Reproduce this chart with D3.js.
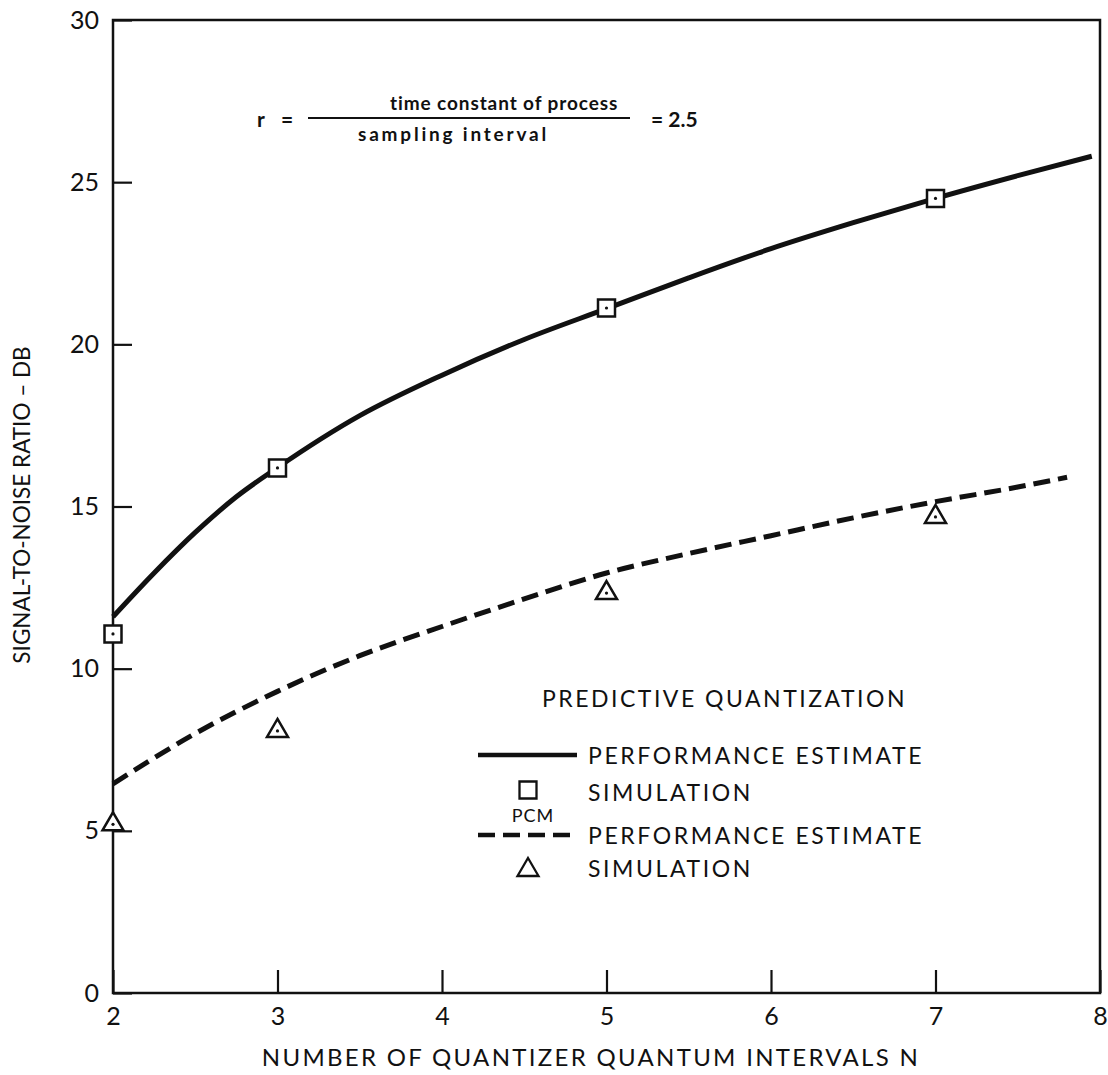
<!DOCTYPE html>
<html>
<head>
<meta charset="utf-8">
<script src="https://cdn.jsdelivr.net/npm/d3@7"></script>
<style>
  body { margin: 0; background: #fff; }
  text { font-family: Lato, "Open Sans", sans-serif; fill: #111; }
</style>
</head>
<body>
<div id="chart"></div>
<script>
// Values
var xTicks = [2, 3, 4, 5, 6, 7, 8];
var yTicks = [0, 5, 10, 15, 20, 25, 30];

// Predictive quantization, performance estimate (solid curve)
var predN = [2, 2.25, 2.5, 2.75, 3, 3.5, 4, 4.5, 5, 5.5, 6, 6.5, 7, 7.5, 7.95];
var predEstimate = [11.6, 12.95, 14.2, 15.3, 16.2, 17.8, 19.05, 20.15, 21.1, 22.05, 22.95, 23.75, 24.5, 25.2, 25.8];

// PCM, performance estimate (dashed curve)
var pcmN = [2, 2.5, 3, 3.5, 4, 4.5, 5, 5.5, 6, 6.5, 7, 7.5, 7.8];
var pcmEstimate = [6.45, 8.0, 9.3, 10.4, 11.3, 12.15, 12.95, 13.55, 14.1, 14.65, 15.15, 15.6, 15.9];

// Simulation points
var simN = [2, 3, 5, 7];
var predSim = [11.07, 16.19, 21.12, 24.5];
var pcmSim = [5.2, 8.08, 12.33, 14.68];

// SVG area
var svgWidth = 1108;
var svgHeight = 1075;
var margin = { top: 20, right: 8, bottom: 82, left: 113 };
var chartWidth = svgWidth - margin.left - margin.right;
var chartHeight = svgHeight - margin.top - margin.bottom;

var svg = d3.select("#chart")
  .append("svg")
  .attr("width", svgWidth)
  .attr("height", svgHeight);

var chartGroup = svg.append("g")
  .attr("transform", `translate(${margin.left}, ${margin.top})`);

var xScale = d3.scaleLinear().domain([2, 8]).range([0, chartWidth]);
var yScale = d3.scaleLinear().domain([0, 30]).range([chartHeight, 0]);

// Axes with ticks pointing inward
var bottomAxis = d3.axisBottom(xScale).tickValues(xTicks).tickFormat(d3.format("d"))
  .tickSize(-23).tickSizeOuter(0).tickPadding(14);
var leftAxis = d3.axisLeft(yScale).tickValues(yTicks).tickFormat(d3.format("d"))
  .tickSize(-19).tickSizeOuter(0).tickPadding(14);

var xAxis = chartGroup.append("g")
  .attr("transform", `translate(0, ${chartHeight})`)
  .call(bottomAxis);
var yAxis = chartGroup.append("g").call(leftAxis);

[xAxis, yAxis].forEach(function(ax) {
  ax.select(".domain").remove();
  ax.selectAll("line").attr("stroke", "#111").attr("stroke-width", 2.2);
  ax.selectAll("text").attr("font-size", 25).style("fill", "#111");
});

// Frame
chartGroup.append("rect")
  .attr("width", chartWidth)
  .attr("height", chartHeight)
  .attr("fill", "none")
  .attr("stroke", "#111")
  .attr("stroke-width", 2.5);

// Curves
var line = d3.line()
  .x(d => xScale(d[0]))
  .y(d => yScale(d[1]))
  .curve(d3.curveMonotoneX);

chartGroup.append("path")
  .datum(d3.zip(predN, predEstimate))
  .attr("d", line)
  .attr("fill", "none")
  .attr("stroke", "#111")
  .attr("stroke-width", 5);

chartGroup.append("path")
  .datum(d3.zip(pcmN, pcmEstimate))
  .attr("d", line)
  .attr("fill", "none")
  .attr("stroke", "#111")
  .attr("stroke-width", 5)
  .attr("stroke-dasharray", "17,8");

// Markers
var squarePath = "M-8.5,-8.5H8.5V8.5H-8.5Z";
var trianglePath = "M0,-12L10.5,6L-10.5,6Z";

function addMarkers(values, path) {
  var g = chartGroup.selectAll(null)
    .data(d3.zip(simN, values))
    .enter()
    .append("g")
    .attr("transform", d => `translate(${xScale(d[0])}, ${yScale(d[1])})`);
  g.append("path")
    .attr("d", path)
    .attr("fill", "#fff")
    .attr("stroke", "#111")
    .attr("stroke-width", 2.5);
  g.append("circle")
    .attr("r", 1.6)
    .attr("fill", "#111");
}
addMarkers(predSim, squarePath);
addMarkers(pcmSim, trianglePath);

// Axis titles
svg.append("text")
  .attr("x", 591)
  .attr("y", 1066)
  .attr("text-anchor", "middle")
  .attr("font-size", 24)
  .attr("letter-spacing", 2.3)
  .text("NUMBER OF QUANTIZER QUANTUM INTERVALS  N");

svg.append("text")
  .attr("transform", "translate(30, 505) rotate(-90)")
  .attr("text-anchor", "middle")
  .attr("font-size", 22.5)
  .text("SIGNAL-TO-NOISE RATIO \u2013 DB");

// Annotation: r = time constant / sampling interval = 2.5
var note = svg.append("g");
note.append("text").attr("x", 257).attr("y", 127).attr("font-size", 21).attr("font-weight", "bold").text("r");
note.append("text").attr("x", 281).attr("y", 127).attr("font-size", 21).attr("font-weight", "bold").text("=");
note.append("line")
  .attr("x1", 308).attr("x2", 630)
  .attr("y1", 118).attr("y2", 118)
  .attr("stroke", "#111").attr("stroke-width", 2);
note.append("text").attr("x", 390).attr("y", 110)
  .attr("font-size", 19).attr("font-weight", "bold").attr("letter-spacing", 0.9)
  .text("time constant of process");
note.append("text").attr("x", 358).attr("y", 141)
  .attr("font-size", 19).attr("font-weight", "bold").attr("letter-spacing", 2.8)
  .text("sampling interval");
note.append("text").attr("x", 651).attr("y", 127).attr("font-size", 21).attr("font-weight", "bold").text("= 2.5");

// Legend
var legend = svg.append("g");
legend.append("text").attr("x", 542).attr("y", 707).attr("font-size", 23).attr("letter-spacing", 2.5)
  .text("PREDICTIVE  QUANTIZATION");

var legendRows = [
  { y: 755, kind: "solid", label: "PERFORMANCE ESTIMATE" },
  { y: 792, kind: "square", label: "SIMULATION" },
  { y: 835, kind: "dashed", label: "PERFORMANCE ESTIMATE" },
  { y: 868, kind: "triangle", label: "SIMULATION" }
];

legendRows.forEach(function(row) {
  if (row.kind === "solid" || row.kind === "dashed") {
    legend.append("line")
      .attr("x1", 478).attr("x2", 577)
      .attr("y1", row.y).attr("y2", row.y)
      .attr("stroke", "#111").attr("stroke-width", 4.5)
      .attr("stroke-dasharray", row.kind === "dashed" ? "17,8" : null);
  } else {
    legend.append("path")
      .attr("d", row.kind === "square" ? squarePath : trianglePath)
      .attr("transform", `translate(528, ${row.y + (row.kind === "triangle" ? 2 : -2)})`)
      .attr("fill", "#fff")
      .attr("stroke", "#111")
      .attr("stroke-width", 2.3);
  }
  legend.append("text")
    .attr("x", 588).attr("y", row.y + 8.5)
    .attr("font-size", 23).attr("letter-spacing", 2.6)
    .text(row.label);
});

legend.append("text").attr("x", 533).attr("y", 822).attr("text-anchor", "middle")
  .attr("font-size", 18).attr("letter-spacing", 1).text("PCM");
</script>
</body>
</html>
